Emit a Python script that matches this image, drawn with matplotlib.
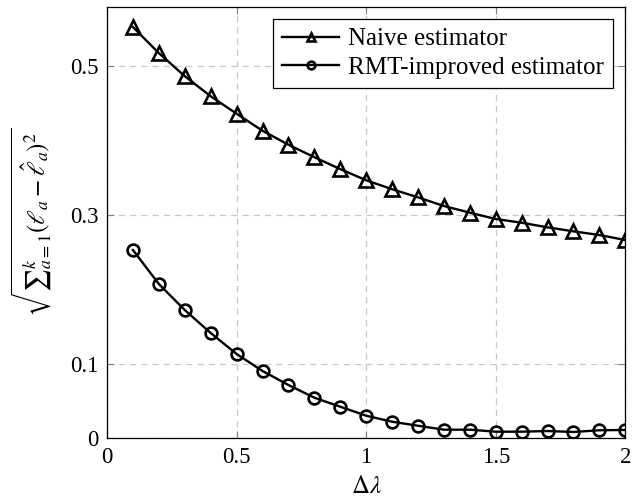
import matplotlib
matplotlib.use("Agg")
import matplotlib.pyplot as plt

delta_lambda = [0.1, 0.2, 0.3, 0.4, 0.5, 0.6, 0.7, 0.8, 0.9, 1.0,
                1.1, 1.2, 1.3, 1.4, 1.5, 1.6, 1.7, 1.8, 1.9, 2.0]
naive = [0.553, 0.518, 0.487, 0.460, 0.4365, 0.4136, 0.3948, 0.378, 0.362, 0.347,
         0.335, 0.324, 0.3124, 0.3034, 0.2949, 0.2899, 0.2837, 0.2783, 0.2734, 0.2666]
rmt = [0.2532, 0.2075, 0.1725, 0.1416, 0.1134, 0.0905, 0.0717, 0.0546, 0.0425, 0.0304,
       0.0223, 0.0169, 0.0116, 0.0116, 0.0089, 0.0089, 0.0098, 0.0085, 0.0108, 0.0112]
series_labels = ["Naive estimator", "RMT-improved estimator"]
xticks = [0, 0.5, 1, 1.5, 2]
xticklabels = ["0", "0.5", "1", "1.5", "2"]
yticks = [0, 0.1, 0.3, 0.5]
yticklabels = ["0", "0.1", "0.3", "0.5"]

plt.rcParams['font.family'] = ['Liberation Serif', 'DejaVu Serif']
plt.rcParams['mathtext.fontset'] = 'stix'

fig = plt.figure(figsize=(6.34, 5.0), dpi=100)
ax = fig.add_axes([0.1688, 0.1234, 0.8175, 0.8632])

ax.plot(delta_lambda, naive, color='black', lw=1.7, marker='^', ms=9.5,
        mfc='none', mec='black', mew=1.9, label=series_labels[0])
ax.plot(delta_lambda, rmt, color='black', lw=1.7, marker='o', ms=8.5,
        mfc='none', mec='black', mew=1.9, label=series_labels[1])

ax.set_xlim(0, 2)
ax.set_ylim(0, 0.5804)
ax.set_xticks(xticks)
ax.set_xticklabels(xticklabels)
ax.set_yticks(yticks)
ax.set_yticklabels(yticklabels)
ax.grid(True, color='#c8c8c8', linestyle=(0, (5, 4)), lw=0.9)
ax.tick_params(direction='in', top=True, right=True, length=5, width=0.8,
               color='#808080', labelsize=16.5, pad=6)
for s in ax.spines.values():
    s.set_linewidth(0.9)
    s.set_color('black')

ax.set_xlabel(r'$\Delta\lambda$', fontsize=18, labelpad=6)
ax.set_ylabel('$\\sqrt{\u2211_{a=1}^{k}(\\ell_a-\\hat{\\ell}_a)^2}$', fontsize=18, labelpad=12)

leg = ax.legend(loc='upper right', fontsize=18, frameon=True, fancybox=False,
                edgecolor='black', framealpha=1, borderpad=0.35, labelspacing=0.25,
                handlelength=2.3, handletextpad=0.35, borderaxespad=0.5,
                markerscale=0.65)
leg.get_frame().set_linewidth(0.9)

fig.savefig("out.png", dpi=100)
